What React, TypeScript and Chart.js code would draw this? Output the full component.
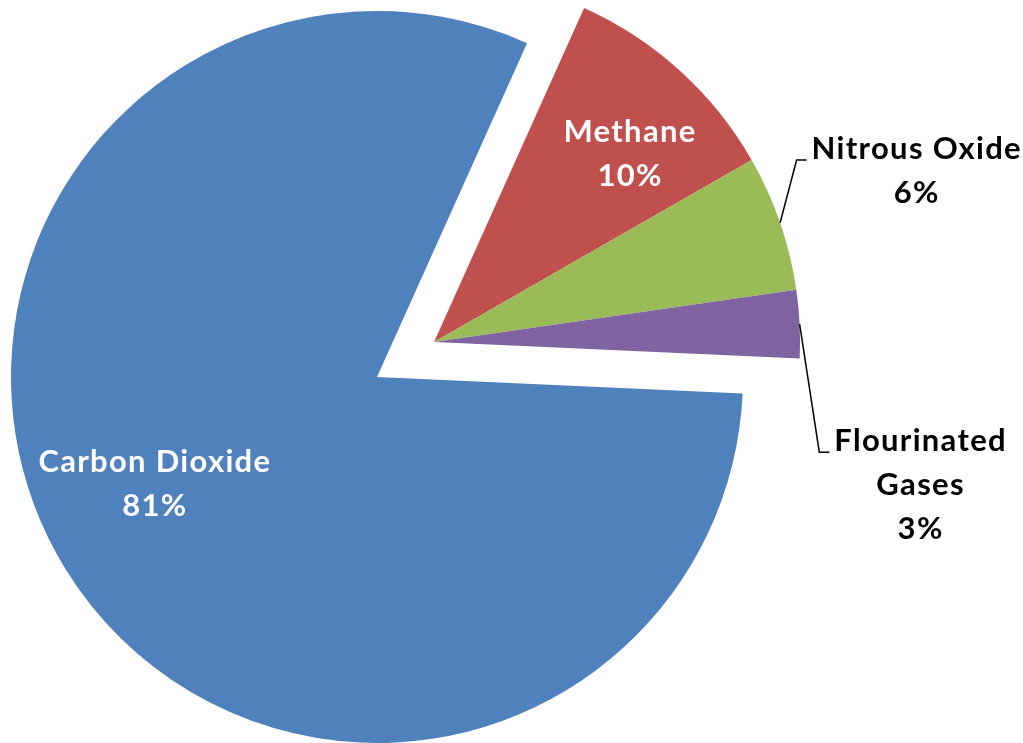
import React, { useEffect, useRef } from "react";
import { Chart, ArcElement, PieController } from "chart.js";

Chart.register(ArcElement, PieController);

// Greenhouse gas shares (percent)
const categories = ["Carbon Dioxide", "Methane", "Nitrous Oxide", "Flourinated Gases"];
const shares = [81, 10, 6, 3];
const sliceColors = ["#4F81BD", "#C0504D", "#9BBB59", "#8064A2"];

// Text lines of each slice label (the percentage is appended)
const labelLines = [["Carbon Dioxide"], ["Methane"], ["Nitrous Oxide"], ["Flourinated", "Gases"]];
const labelColors = ["#FFFFFF", "#FFFFFF", "#000000", "#000000"];
// Label anchor: angle from 12 o'clock (deg) and distance as a fraction of the radius
const labelAngles = [244.4, 46.1, 70.4, 106.3];
const labelRadii = [0.673, 0.743, 1.4, 1.385];
const hasLeader = [false, false, true, true];
// Slices pulled out of the pie as one group
const pulledOut = [false, true, true, true];

const EXPLODE = 67;
const FONT = "bold 31px Lato";
const LETTER_SPACING = "1.3px";
const LINE_H = 44;
const CAP_H = 22;

function groupShift(chart: any) {
  const meta = chart.getDatasetMeta(0);
  const arcs = meta.data as any[];
  const idx = pulledOut.map((p, i) => (p ? i : -1)).filter((i) => i >= 0);
  if (!idx.length) return { dx: 0, dy: 0 };
  const start = arcs[idx[0]].startAngle;
  const end = arcs[idx[idx.length - 1]].endAngle;
  const mid = (start + end) / 2;
  return { dx: Math.cos(mid) * EXPLODE, dy: Math.sin(mid) * EXPLODE };
}

const explodePlugin = {
  id: "explodeGroup",
  beforeDatasetDraw(chart: any) {
    const ctx = chart.ctx;
    const arcs = chart.getDatasetMeta(0).data as any[];
    const { dx, dy } = groupShift(chart);
    arcs.forEach((arc, i) => {
      ctx.save();
      if (pulledOut[i]) ctx.translate(dx, dy);
      arc.draw(ctx);
      ctx.restore();
    });
    return false;
  },
  afterDatasetsDraw(chart: any) {
    const ctx = chart.ctx;
    const arcs = chart.getDatasetMeta(0).data as any[];
    const { dx, dy } = groupShift(chart);
    ctx.save();
    ctx.font = FONT;
    (ctx as any).letterSpacing = LETTER_SPACING;
    ctx.textAlign = "center";
    ctx.textBaseline = "alphabetic";
    arcs.forEach((arc, i) => {
      const cx = arc.x + (pulledOut[i] ? dx : 0);
      const cy = arc.y + (pulledOut[i] ? dy : 0);
      const r = arc.outerRadius;
      const a = (labelAngles[i] * Math.PI) / 180;
      const lx = cx + Math.sin(a) * r * labelRadii[i];
      const ly = cy - Math.cos(a) * r * labelRadii[i];
      const lines = [...labelLines[i], `${shares[i]}%`];
      const total = CAP_H + (lines.length - 1) * LINE_H;
      const firstBase = ly - total / 2 + CAP_H;
      ctx.fillStyle = labelColors[i];
      lines.forEach((t, k) => ctx.fillText(t, lx, firstBase + k * LINE_H));

      if (hasLeader[i]) {
        const w = Math.max(...lines.map((t) => ctx.measureText(t).width));
        const left = lx - w / 2;
        const mid = (arc.startAngle + arc.endAngle) / 2;
        const sx = cx + Math.cos(mid) * r;
        const sy = cy + Math.sin(mid) * r;
        const vy = firstBase + 1;
        ctx.strokeStyle = "#000000";
        ctx.lineWidth = 1.5;
        ctx.beginPath();
        ctx.moveTo(sx, sy);
        ctx.lineTo(left - 15, vy);
        ctx.lineTo(left - 5, vy);
        ctx.stroke();
      }
    });
    ctx.restore();
  },
};

export default function App() {
  const canvasRef = useRef<HTMLCanvasElement | null>(null);

  useEffect(() => {
    if (!canvasRef.current) return;
    const chart = new Chart(canvasRef.current, {
      type: "pie",
      data: {
        labels: categories,
        datasets: [
          {
            data: shares,
            backgroundColor: sliceColors,
            borderWidth: 0,
          },
        ],
      },
      options: {
        animation: false,
        responsive: false,
        rotation: 92.6,
        layout: { padding: { left: 11, right: 280, top: 11, bottom: 0 } },
        plugins: {
          legend: { display: false },
          tooltip: { enabled: false },
        },
      },
      plugins: [explodePlugin],
    });
    return () => chart.destroy();
  }, []);

  return (
    <div style={{ position: "fixed", left: 0, top: 0, width: 1023, height: 743, background: "#FFFFFF" }}>
      <canvas ref={canvasRef} width={1023} height={743} />
    </div>
  );
}
